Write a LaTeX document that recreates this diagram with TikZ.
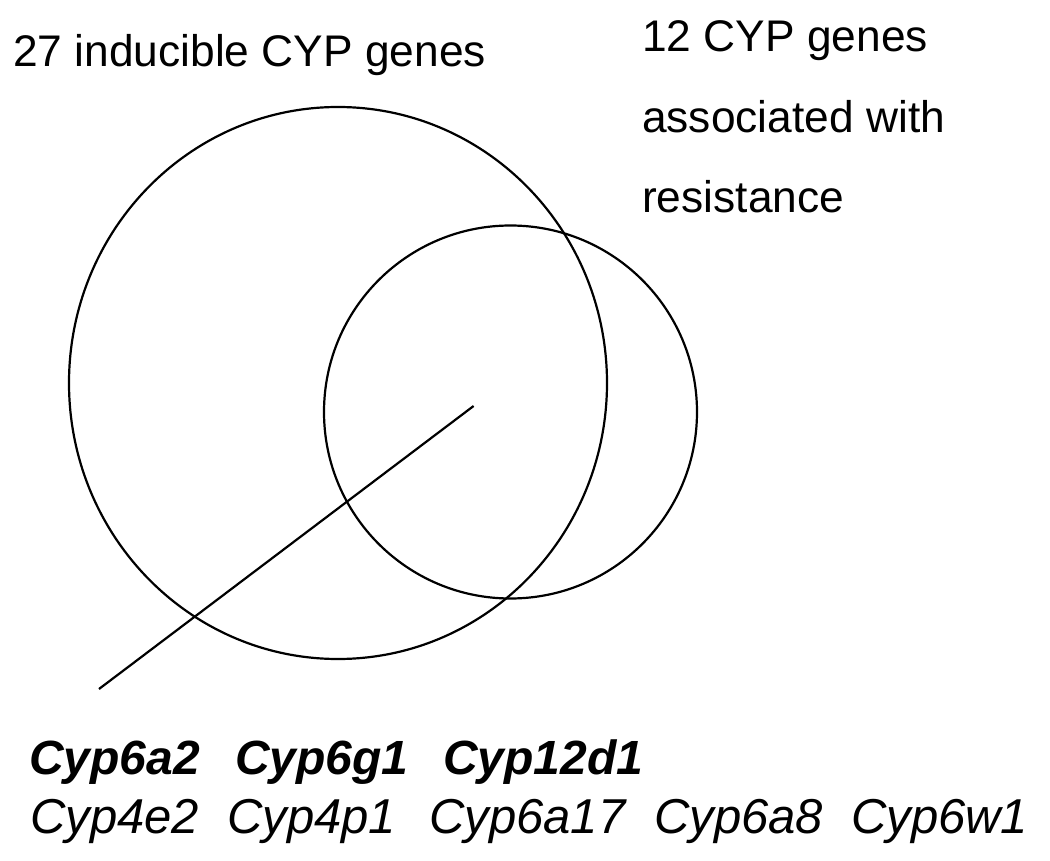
\documentclass[tikz,border=0pt]{standalone}
\usepackage{fontspec}
\setmainfont{Liberation Sans}
\usetikzlibrary{shapes.geometric}
\tikzset{
  lbl/.style={anchor=base west, inner sep=0pt, font=\fontsize{44.3}{53}\selectfont},
  gene/.style={anchor=base west, inner sep=0pt, font=\fontsize{49}{58}\selectfont\itshape},
  bgene/.style={gene, font=\fontsize{48}{57}\selectfont\itshape\bfseries},
  ring/.style={draw=black, line width=2.2pt},
  pointer/.style={draw=black, line width=2.2pt}
}
\begin{document}
\begin{tikzpicture}[x=1pt,y=-1pt]
\useasboundingbox (0,0) rectangle (1050,861);
\fill[white] (0,0) rectangle (1050,861);
% circles
\node[ring, ellipse, minimum width=538pt, minimum height=552pt, inner sep=0pt] (big) at (338,383) {};
\node[ring, circle, minimum size=373pt, inner sep=0pt] (small) at (510.5,412) {};
% labels
\node[lbl] (l27) at (13,67) {27 inducible CYP genes};
\node[lbl] (l12a) at (642,52) {12 CYP genes};
\node[lbl] (l12b) at (642,133) {associated with};
\node[lbl] (l12c) at (642,213) {resistance};
% pointer
\coordinate (pin) at (473.6,406);
\coordinate (pout) at (99,689);
\draw[pointer] (pin) -- (pout);
% genes
\node[bgene] (g1) at (29,774) {Cyp6a2};
\node[bgene] (g2) at (235,774) {Cyp6g1};
\node[bgene] (g3) at (443,774) {Cyp12d1};
\node[gene] (g4) at (30,833) {Cyp4e2};
\node[gene] (g5) at (227,833) {Cyp4p1};
\node[gene] (g6) at (429,833) {Cyp6a17};
\node[gene] (g7) at (654,833) {Cyp6a8};
\node[gene] (g8) at (851,833) {Cyp6w1};
\end{tikzpicture}
\end{document}
